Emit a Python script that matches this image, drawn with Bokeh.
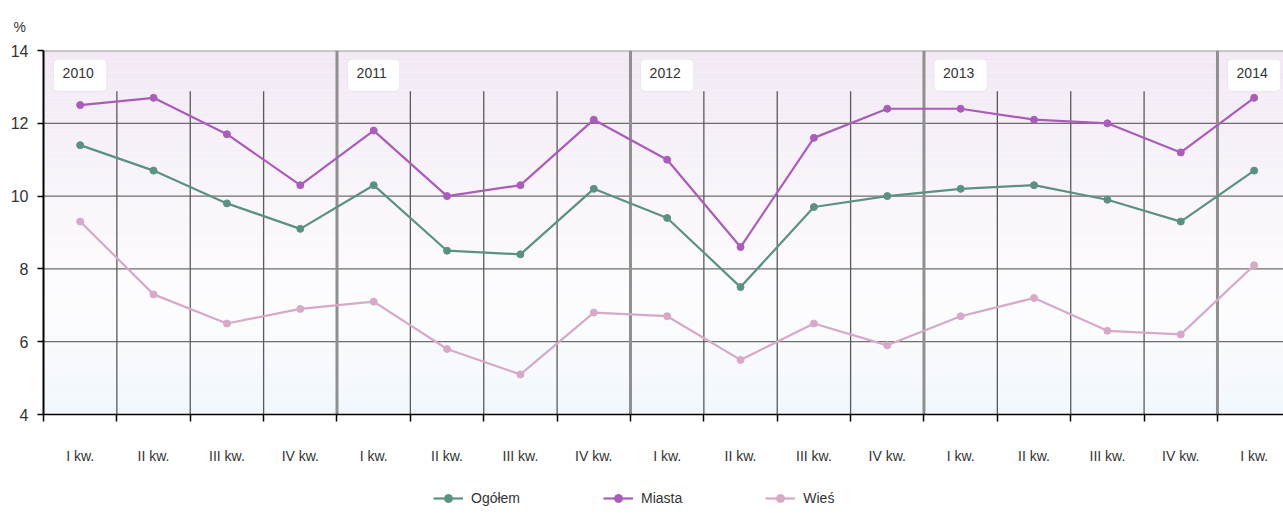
import numpy as np
from bokeh.plotting import figure
from bokeh.layouts import column
from bokeh.models import Range1d, FixedTicker, Legend, LegendItem
from bokeh.core.properties import value
from bokeh.embed import file_html
from bokeh.resources import INLINE

# ---- data ----
quarters = ["I kw.", "II kw.", "III kw.", "IV kw.",
            "I kw.", "II kw.", "III kw.", "IV kw.",
            "I kw.", "II kw.", "III kw.", "IV kw.",
            "I kw.", "II kw.", "III kw.", "IV kw.",
            "I kw."]
years = ["2010", "2011", "2012", "2013", "2014"]
ogolem = [11.4, 10.7, 9.8, 9.1, 10.3, 8.5, 8.4, 10.2, 9.4, 7.5, 9.7, 10.0, 10.2, 10.3, 9.9, 9.3, 10.7]
miasta = [12.5, 12.7, 11.7, 10.3, 11.8, 10.0, 10.3, 12.1, 11.0, 8.6, 11.6, 12.4, 12.4, 12.1, 12.0, 11.2, 12.7]
wies = [9.3, 7.3, 6.5, 6.9, 7.1, 5.8, 5.1, 6.8, 6.7, 5.5, 6.5, 5.9, 6.7, 7.2, 6.3, 6.2, 8.1]
series_names = ["Ogółem", "Miasta", "Wieś"]
y_ticks = [4, 6, 8, 10, 12, 14]

# ---- styles ----
colors = ["#5b9183", "#a95db8", "#d6a9c9"]
FONT = "'Liberation Sans Narrow', 'Arial Narrow', 'Liberation Sans', sans-serif"
X0, X1 = -0.5, 16.4
Y0, Y1 = 4, 14

n = len(quarters)
xs = list(range(n))

p = figure(width=1283, height=473, output_backend="svg", toolbar_location=None,
           x_range=Range1d(X0, X1), y_range=Range1d(Y0, Y1),
           min_border_left=43, min_border_right=0, min_border_top=49, min_border_bottom=59)
p.outline_line_color = None
p.background_fill_color = "white"
p.border_fill_color = "white"
p.xgrid.visible = False
p.ygrid.visible = False

# background gradient (pink top -> white -> light blue bottom)
edges = np.linspace(Y0, Y1, 101)
mids = (edges[:-1] + edges[1:]) / 2
stop_v = [4, 7.0, 9.5, 14]
stop_c = np.array([[241, 247, 253], [252, 252, 253], [250, 246, 251], [241, 232, 244]])
band_colors = []
for m in mids:
    r, g, b = (int(round(np.interp(m, stop_v, stop_c[:, k]))) for k in range(3))
    band_colors.append("#%02x%02x%02x" % (r, g, b))
bands = p.quad(left=X0, right=X1, bottom=edges[:-1], top=edges[1:], fill_color=band_colors, line_color=None)
bands.level = "image"

# horizontal grid lines
h_lines = [t for t in y_ticks if Y0 < t < Y1]
p.segment(x0=X0, x1=X1, y0=h_lines, y1=h_lines, line_color="#6e6e6e", line_width=1.3)
p.segment(x0=X0, x1=X1, y0=Y1, y1=Y1, line_color="#a09aa3", line_width=2)

# vertical lines: quarter boundaries (thin, shorter) and year boundaries (thick)
bounds = [i + 0.5 for i in range(n - 1)]
thin = [b for b in bounds if (b + 0.5) % 4 != 0]
thick = [b for b in bounds if (b + 0.5) % 4 == 0]
p.segment(x0=thin, x1=thin, y0=Y0, y1=12.88, line_color="#5a5a5a", line_width=1.3)
p.segment(x0=thick, x1=thick, y0=Y0, y1=Y1, line_color="#8f8f8f", line_width=3)

# year labels
year_x = [4 * i for i in range(len(years))]
p.text(x=year_x, y=[13.32] * len(years), text=years, text_align="center", text_baseline="middle",
       text_font=value(FONT), text_font_size="14px", text_color="#333333",
       background_fill_color="white", border_line_color="#ebe6ee", border_line_width=1,
       padding=(9, 13, 9, 13), border_radius=4)

# series
for name, vals, c in zip(series_names, [ogolem, miasta, wies], colors):
    p.line(xs, vals, line_color=c, line_width=2.2)
    p.scatter(xs, vals, size=7, fill_color=c, line_color=c)

# axes
xa = p.xaxis[0]
xa.ticker = FixedTicker(ticks=xs, minor_ticks=[-0.5] + bounds)
xa.major_label_overrides = {i: q for i, q in enumerate(quarters)}
xa.major_tick_line_color = None
xa.major_tick_out = 0
xa.major_tick_in = 0
xa.minor_tick_line_color = "black"
xa.minor_tick_line_width = 1.5
xa.minor_tick_out = 7
xa.minor_tick_in = 0
xa.axis_line_color = "black"
xa.axis_line_width = 1.5
xa.major_label_standoff = 26
xa.major_label_text_font = FONT
xa.major_label_text_font_size = "14px"
xa.major_label_text_color = "#333333"

ya = p.yaxis[0]
ya.ticker = FixedTicker(ticks=y_ticks)
ya.axis_line_color = "black"
ya.axis_line_width = 2
ya.major_tick_line_color = "black"
ya.major_tick_line_width = 1.5
ya.major_tick_out = 6
ya.major_tick_in = 0
ya.minor_tick_line_color = None
ya.major_label_standoff = 9
ya.major_label_text_font = FONT
ya.major_label_text_font_size = "16px"
ya.major_label_text_color = "#333333"

p.title.text = "%"
p.title.align = "left"
p.title.offset = -30
p.title.text_font = FONT
p.title.text_font_size = "14px"
p.title.text_font_style = "normal"
p.title.text_color = "#333333"
p.title.standoff = 32

# legend in its own strip below the chart (series drawn off-view so the legend glyphs render)
lg = figure(width=1283, height=44, output_backend="svg", toolbar_location=None,
            x_axis_type=None, y_axis_type=None, x_range=Range1d(X0, X1), y_range=Range1d(100, 101),
            min_border=0)
lg.outline_line_color = None
lg.xgrid.visible = False
lg.ygrid.visible = False
items = []
for name, vals, c in zip(series_names, [ogolem, miasta, wies], colors):
    r1 = lg.line(xs, vals, line_color=c, line_width=2.2)
    r2 = lg.scatter(xs, vals, size=7, fill_color=c, line_color=c)
    items.append(LegendItem(label=name, renderers=[r1, r2]))
legend = Legend(items=items, orientation="horizontal", location=(390, 9), spacing=83,
                glyph_width=30, label_standoff=8, border_line_color=None,
                background_fill_alpha=0, label_text_font=FONT, label_text_font_size="14px",
                label_text_color="#333333", margin=0, padding=0)
lg.add_layout(legend)

open("out.html", "w").write(file_html(column(p, lg, spacing=0), INLINE))
